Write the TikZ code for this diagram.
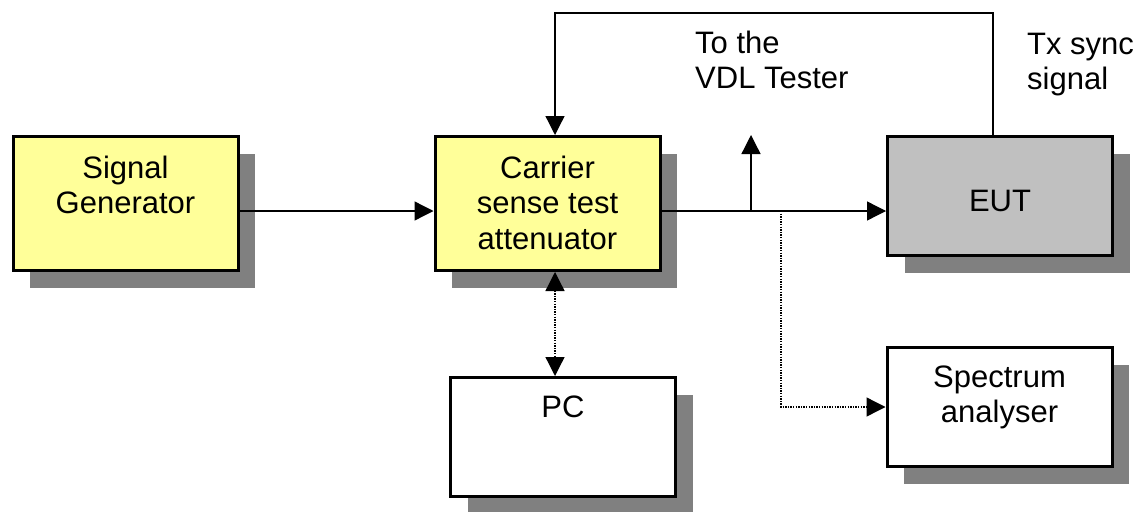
\documentclass[tikz,border=0pt]{standalone}
\usepackage{fontspec}
\setmainfont{Liberation Sans}
\usetikzlibrary{arrows.meta,shadows}
\definecolor{boxyellow}{HTML}{FFFF99}
\definecolor{eutgray}{HTML}{C0C0C0}
\definecolor{shadowgray}{HTML}{808080}
\begin{document}
\begin{tikzpicture}[x=1pt,y=-1pt,
  blk/.style={draw=black, line width=3pt, minimum width=225pt, minimum height=119pt,
    inner sep=0pt,
    general shadow={fill=shadowgray, shadow xshift=17pt, shadow yshift=-17pt}},
  tall/.style={minimum height=134pt},
  lbl/.style={font=\fontsize{31}{35.5}\selectfont, align=center, inner sep=0pt, anchor=north},
  note/.style={font=\fontsize{31}{35.5}\selectfont, align=left, inner sep=0pt, anchor=north west},
  conn/.style={line width=1.3pt, -{Triangle[length=19pt,width=19pt]}},
  plain/.style={line width=1.3pt},
  dots/.style={dash pattern=on 1.3pt off 1.3pt}
]
\useasboundingbox (0,0) rectangle (1139,511);

% blocks
\node[blk, tall, fill=boxyellow] (sg)  at (125.5,203.5) {};
\node[blk, tall, fill=boxyellow] (car) at (547.5,203.5) {};
\node[blk, fill=eutgray]         (eut) at (1000,196) {};
\node[blk, fill=white]           (pc)  at (563,437) {};
\node[blk, fill=white]           (sa)  at (999.5,407) {};

% block texts
\node[lbl] at ([yshift=-20.5pt]sg.north)  {Signal\\Generator};
\node[lbl] at ([yshift=-20.5pt]car.north) {Carrier\\sense test\\attenuator};
\node[lbl, anchor=base] at (eut.center |- 0,211) {EUT};
\node[lbl] at ([yshift=-19.5pt]pc.north)  {PC};
\node[lbl] at ([yshift=-19.5pt]sa.north)  {Spectrum\\analyser};

% free labels
\node[note] (vdl) at (695,30.5) {To the\\VDL Tester};
\node[note] (tx)  at (1027,32.5) {Tx sync\\signal};

% helper points
\coordinate (main) at (0,211);
\coordinate (tap)  at (751,211);
\coordinate (vdlend) at (751,135);
\coordinate (spl)  at (781,211);
\coordinate (spc)  at (781,407);
\coordinate (loopR) at (993,13);
\coordinate (loopL) at (555,13);

% signal path
\draw[conn] (sg.east |- main) -- (car.west |- main);
\draw[conn] (car.east |- main) -- (eut.west |- main);
\draw[conn] (tap) -- (vdlend);

% Tx sync feedback loop
\draw[conn] (eut.north -| loopR) -- (loopR) -- (loopL) -- (car.north -| loopL);

% control link to the PC
\draw[plain, dots, {Triangle[length=19pt,width=19pt]}-{Triangle[length=19pt,width=19pt]}]
  (car.south -| loopL) -- (pc.north -| loopL);

% monitoring branch to the spectrum analyser
\draw[conn, dots] (spl) -- (spc) -- (sa.west |- spc);
\end{tikzpicture}
\end{document}
